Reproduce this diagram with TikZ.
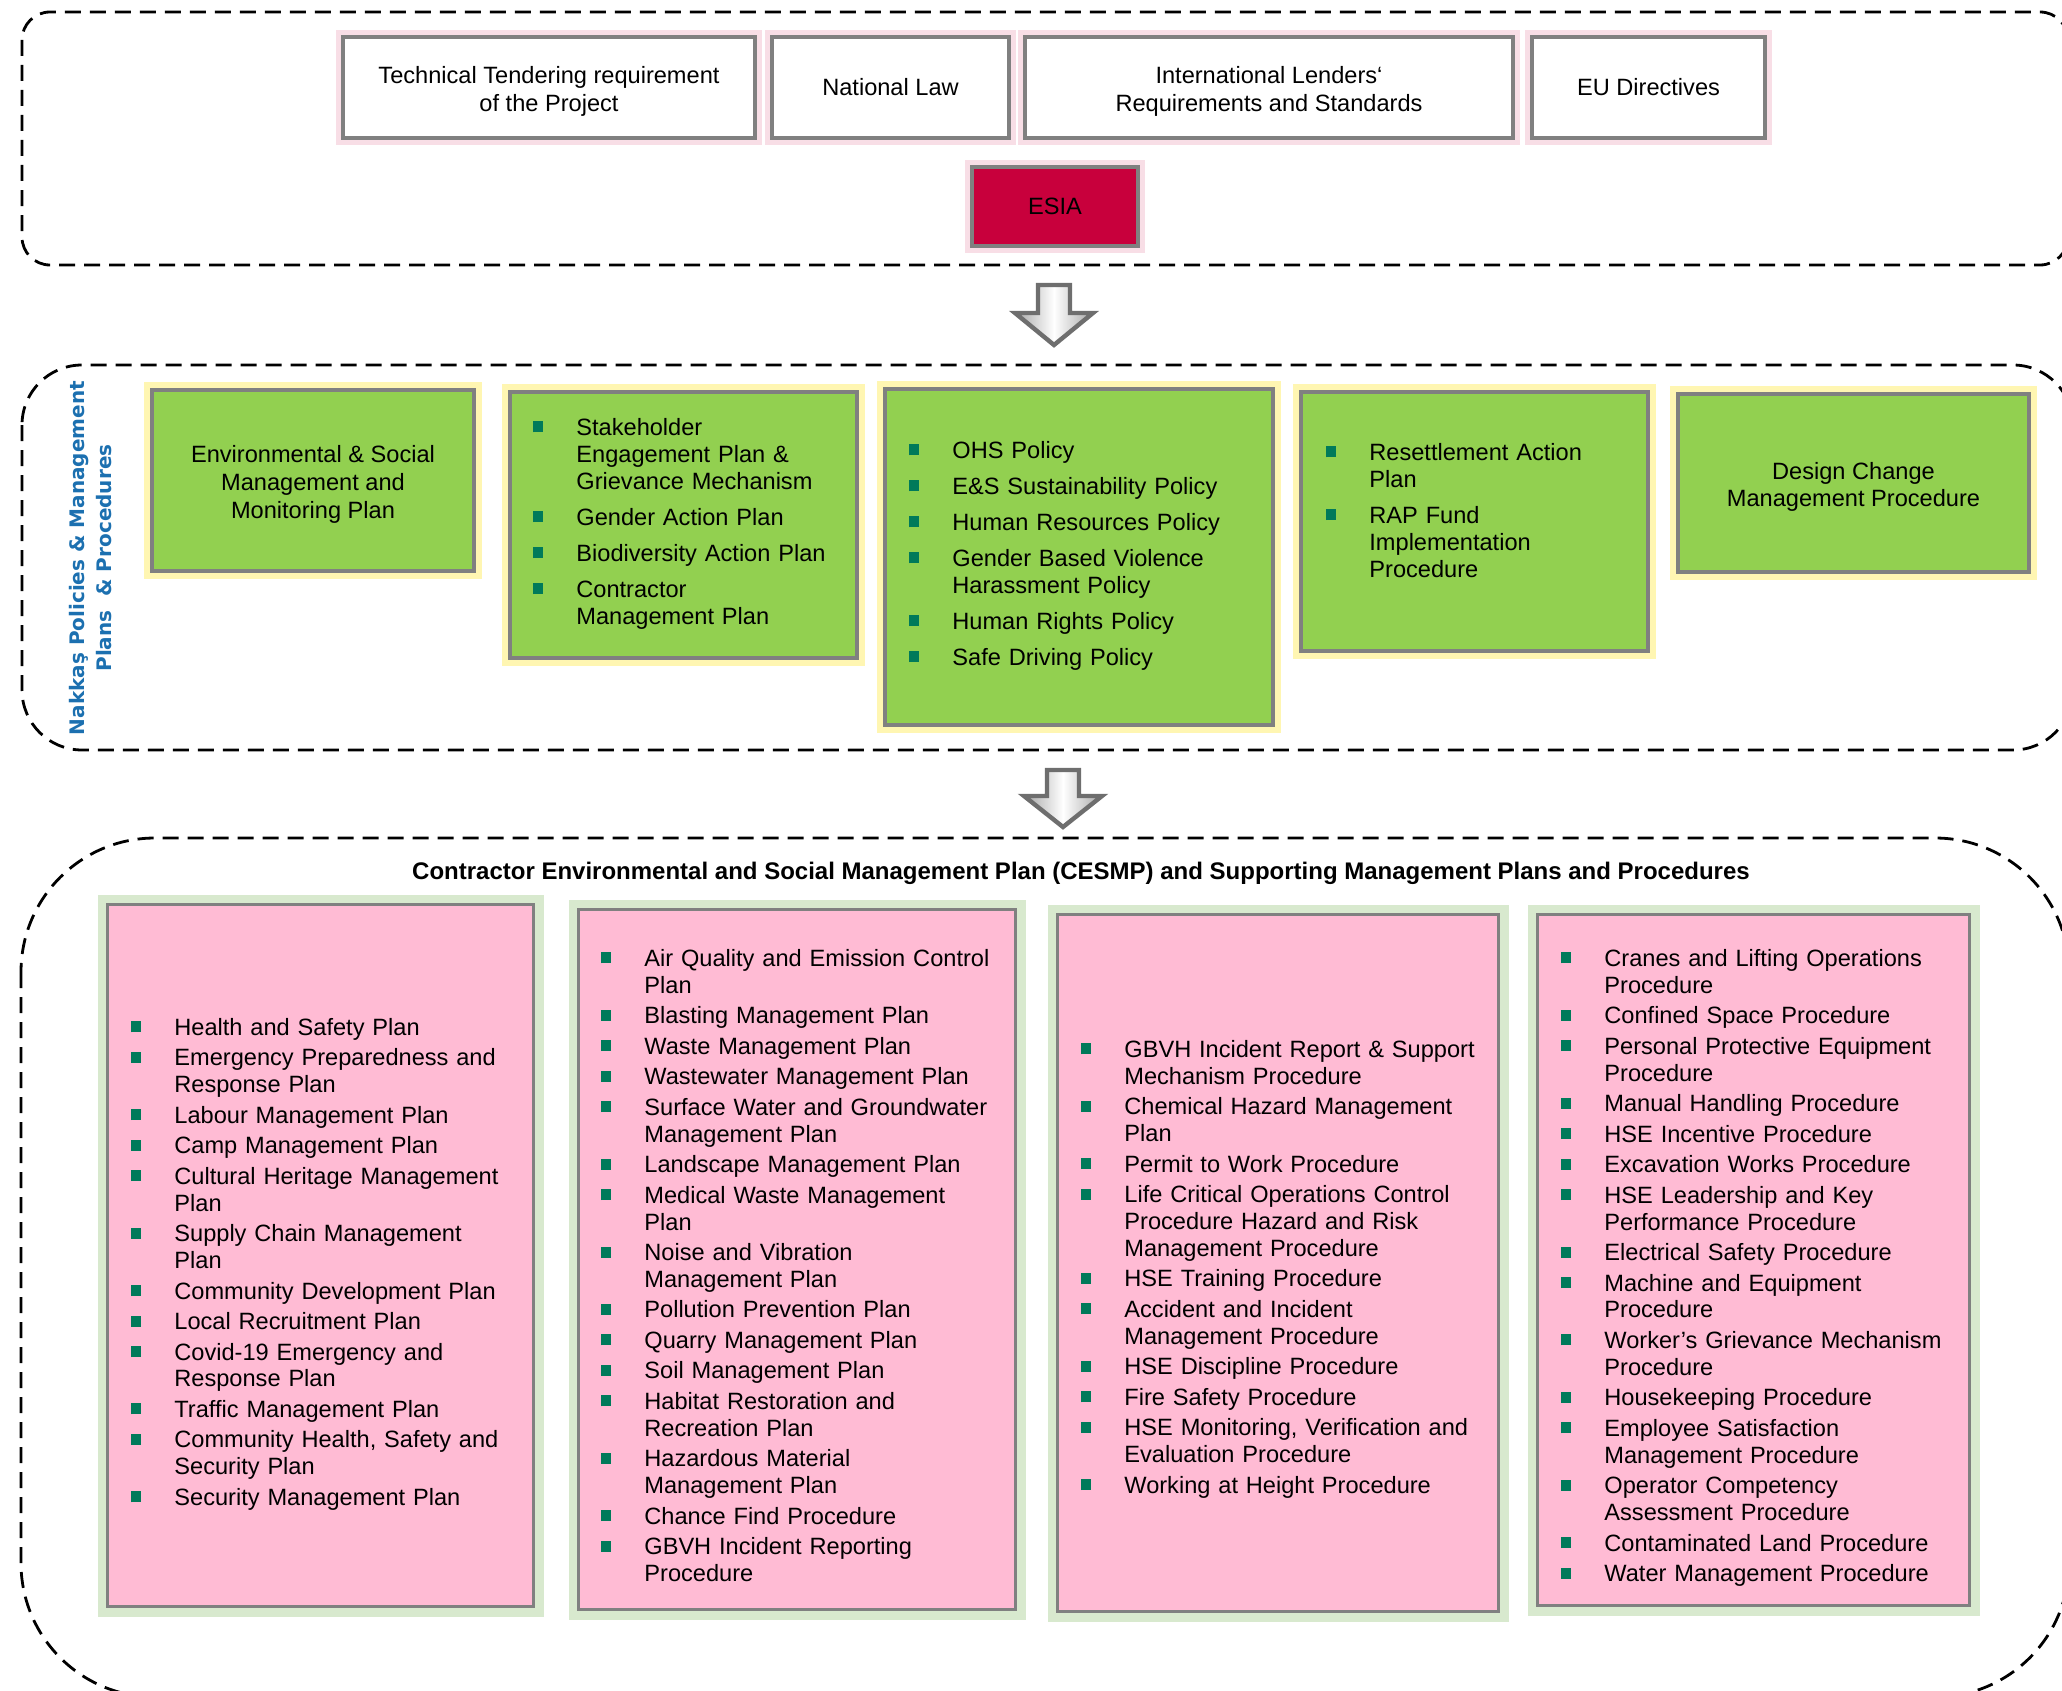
\documentclass[tikz,border=0pt]{standalone}
\usepackage{fontspec}
\setmainfont{Liberation Sans}
\newfontfamily\sidefont{DejaVu Sans}
\definecolor{boxgray}{RGB}{128,128,128}
\definecolor{pinkhalo}{RGB}{248,222,230}
\definecolor{yellowhalo}{RGB}{255,246,178}
\definecolor{greenhalo}{RGB}{216,233,206}
\definecolor{leafgreen}{RGB}{146,208,80}
\definecolor{pinkfill}{RGB}{255,187,212}
\definecolor{esiared}{RGB}{200,0,60}
\definecolor{bulletgreen}{RGB}{0,122,90}
\definecolor{labelblue}{RGB}{28,112,176}
\definecolor{arrowgray}{RGB}{110,110,110}
\newcommand{\sqb}{\textcolor{bulletgreen}{\raisebox{1.5pt}{\rule{5pt}{5.5pt}}}}
\newcommand{\tallrule}{\rule{0pt}{12.5pt}}
\newenvironment{blist}[1]{\begin{list}{\sqb}{\setlength{\leftmargin}{21.5pt}\setlength{\labelwidth}{5pt}\setlength{\labelsep}{16.5pt}\setlength{\itemsep}{#1}\setlength{\parsep}{0pt}\setlength{\topsep}{0pt}\setlength{\partopsep}{0pt}\setlength{\itemindent}{0pt}\setlength{\listparindent}{0pt}\setlength{\rightmargin}{0pt}}}{\end{list}}
\tikzset{
  groupbox/.style={draw=black, line width=1.4pt, dash pattern=on 8pt off 4.5pt},
  topbox/.style={draw=boxgray, line width=2.2pt, fill=white, preaction={draw=pinkhalo, line width=7pt}, inner sep=0pt, align=center, font=\fontsize{11.8}{13.8}\selectfont},
  greenbox/.style={draw=boxgray, line width=2pt, fill=leafgreen, preaction={draw=yellowhalo, line width=8pt}, inner sep=0pt, align=center, font=\fontsize{11.8}{13.8}\selectfont},
  pinkbox/.style={draw=boxgray, line width=1.3pt, fill=pinkfill, preaction={draw=greenhalo, line width=10pt}, inner sep=0pt},
  listnode/.style={anchor=north west, inner sep=0pt, text width=#1, align=left, font=\fontsize{11.8}{13.45}\selectfont},
  blockarrow/.style={draw=arrowgray, line width=2.2pt, line join=miter, left color=black!35, right color=black!35, middle color=white},
}
\begin{document}
\begin{tikzpicture}[x=0.5pt,y=-0.5pt]
\useasboundingbox (0,0) rectangle (2062,1691);
\clip (0,0) rectangle (2062,1691);
% group boxes
\draw[groupbox, rounded corners=14pt] (22,12) rectangle (2068,265);
\draw[groupbox, rounded corners=30pt] (22,365) rectangle (2073,750);
\draw[groupbox, rounded corners=67pt] (21,838) rectangle (2069,1697);
% top row
\node[topbox, minimum width=206pt, minimum height=50.5pt] (tech) at (549,87.5) {\tallrule Technical Tendering requirement\\of the Project};
\node[topbox, minimum width=118.5pt, minimum height=50.5pt] (natlaw) at (890.5,87.5) {National Law};
\node[topbox, minimum width=244pt, minimum height=50.5pt] (intl) at (1269,87.5) {\tallrule International Lenders‘\\Requirements and Standards};
\node[topbox, minimum width=116.5pt, minimum height=50.5pt] (eu) at (1648.5,87.5) {EU Directives};
\node[topbox, fill=esiared, minimum width=83pt, minimum height=39.5pt] (esia) at (1055,206.5) {ESIA};
% arrows
\draw[blockarrow] (1038,285) -- (1070,285) -- (1070,313) -- (1093,313) -- (1054,345) -- (1015,313) -- (1038,313) -- cycle;
\draw[blockarrow] (1047,770) -- (1079,770) -- (1079,796) -- (1102,796) -- (1063,827) -- (1024,796) -- (1047,796) -- cycle;
% side label
\node[rotate=90, font=\sidefont\bfseries\fontsize{10}{13.5}\selectfont, text=labelblue, align=center, inner sep=0pt] (sidelabel) at (90.5,558) {Nakkaş Policies \& Management\\Plans~~\& Procedures};
% green boxes
\node[greenbox, minimum width=161pt, minimum height=90.5pt] (g1) at (313,480.5) {\tallrule Environmental \& Social\\Management and\\Monitoring Plan};
\node[greenbox, minimum width=173.5pt, minimum height=133pt] (g2) at (683.5,525) {};
\node[greenbox, minimum width=194pt, minimum height=168pt] (g3) at (1079,557) {};
\node[greenbox, minimum width=173.5pt, minimum height=129.5pt] (g4) at (1474.5,521.5) {};
\node[greenbox, minimum width=175.5pt, minimum height=89pt] (g5) at (1853.5,483) {\tallrule Design Change\\Management Procedure};
\node[listnode=165pt] (g2list) at (533,408) {\begin{blist}{4.55pt}
\item\strut Stakeholder\\Engagement Plan \&\\Grievance Mechanism
\item\strut Gender Action Plan
\item\strut Biodiversity Action Plan
\item\strut Contractor\\Management Plan
\end{blist}};
\node[listnode=185pt] (g3list) at (909,431) {\begin{blist}{4.55pt}
\item\strut OHS Policy
\item\strut E\&S Sustainability Policy
\item\strut Human Resources Policy
\item\strut Gender Based Violence\\Harassment Policy
\item\strut Human Rights Policy
\item\strut Safe Driving Policy
\end{blist}};
\node[listnode=160pt] (g4list) at (1326,433) {\begin{blist}{4.55pt}
\item\strut Resettlement Action\\Plan
\item\strut RAP Fund\\Implementation\\Procedure
\end{blist}};
% bottom title
\node[font=\bfseries\fontsize{12}{14}\selectfont, inner sep=0pt] (title) at (1081,873) {Contractor Environmental and Social Management Plan (CESMP) and Supporting Management Plans and Procedures};
% pink boxes
\node[pinkbox, minimum width=213pt, minimum height=351pt] (p1) at (320.5,1255.5) {};
\node[pinkbox, minimum width=218.5pt, minimum height=350pt] (p2) at (797,1259.5) {};
\node[pinkbox, minimum width=220.5pt, minimum height=348.5pt] (p3) at (1278,1263) {};
\node[pinkbox, minimum width=216pt, minimum height=345.5pt] (p4) at (1753.5,1260) {};
\node[listnode=205pt] (p1list) at (131,1008) {\begin{blist}{1.8pt}
\item\strut Health and Safety Plan
\item\strut Emergency Preparedness and\\Response Plan
\item\strut Labour Management Plan
\item\strut Camp Management Plan
\item\strut Cultural Heritage Management\\Plan
\item\strut Supply Chain Management\\Plan
\item\strut Community Development Plan
\item\strut Local Recruitment Plan
\item\strut Covid-19 Emergency and\\Response Plan
\item\strut Traffic Management Plan
\item\strut Community Health, Safety and\\Security Plan
\item\strut Security Management Plan
\end{blist}};
\node[listnode=210pt] (p2list) at (601,939) {\begin{blist}{1.8pt}
\item\strut Air Quality and Emission Control\\Plan
\item\strut Blasting Management Plan
\item\strut Waste Management Plan
\item\strut Wastewater Management Plan
\item\strut Surface Water and Groundwater\\Management Plan
\item\strut Landscape Management Plan
\item\strut Medical Waste Management\\Plan
\item\strut Noise and Vibration\\Management Plan
\item\strut Pollution Prevention Plan
\item\strut Quarry Management Plan
\item\strut Soil Management Plan
\item\strut Habitat Restoration and\\Recreation Plan
\item\strut Hazardous Material\\Management Plan
\item\strut Chance Find Procedure
\item\strut GBVH Incident Reporting\\Procedure
\end{blist}};
\node[listnode=212pt] (p3list) at (1081,1030) {\begin{blist}{1.8pt}
\item\strut GBVH Incident Report \& Support\\Mechanism Procedure
\item\strut Chemical Hazard Management\\Plan
\item\strut Permit to Work Procedure
\item\strut Life Critical Operations Control\\Procedure Hazard and Risk\\Management Procedure
\item\strut HSE Training Procedure
\item\strut Accident and Incident\\Management Procedure
\item\strut HSE Discipline Procedure
\item\strut Fire Safety Procedure
\item\strut HSE Monitoring, Verification and\\Evaluation Procedure
\item\strut Working at Height Procedure
\end{blist}};
\node[listnode=205pt] (p4list) at (1561,939) {\begin{blist}{1.8pt}
\item\strut Cranes and Lifting Operations\\Procedure
\item\strut Confined Space Procedure
\item\strut Personal Protective Equipment\\Procedure
\item\strut Manual Handling Procedure
\item\strut HSE Incentive Procedure
\item\strut Excavation Works Procedure
\item\strut HSE Leadership and Key\\Performance Procedure
\item\strut Electrical Safety Procedure
\item\strut Machine and Equipment\\Procedure
\item\strut Worker’s Grievance Mechanism\\Procedure
\item\strut Housekeeping Procedure
\item\strut Employee Satisfaction\\Management Procedure
\item\strut Operator Competency\\Assessment Procedure
\item\strut Contaminated Land Procedure
\item\strut Water Management Procedure
\end{blist}};
\end{tikzpicture}
\end{document}
